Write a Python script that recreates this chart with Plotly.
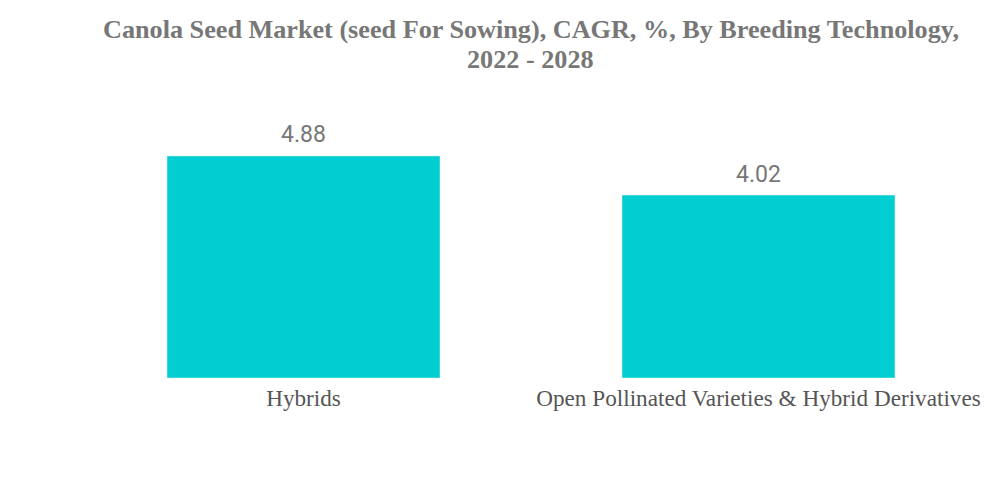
import plotly.graph_objects as go

categories = ["Hybrids", "Open Pollinated Varieties & Hybrid Derivatives"]
values = [4.88, 4.02]
value_labels = ["4.88", "4.02"]
title_lines = ["Canola Seed Market (seed For Sowing), CAGR, %, By Breeding Technology,",
               "2022 - 2028"]

fig = go.Figure(go.Bar(
    x=categories, y=values, marker_color="#00CED1", width=0.6, cliponaxis=False,
))
for c, v, t in zip(categories, values, value_labels):
    fig.add_annotation(x=c, y=v, text=t, showarrow=False, yanchor="middle", yshift=21,
                       font=dict(family="Roboto", size=23, color="#777777"))

title_font = dict(family="Liberation Serif", size=26.2, color="#777777", weight="bold")
for line, py in zip(title_lines, [1.2755, 1.1665]):
    fig.add_annotation(xref="paper", yref="paper", x=0.4995, y=py, text=line,
                       showarrow=False, xanchor="center", yanchor="middle", font=title_font)

fig.update_layout(
    width=1000, height=483,
    paper_bgcolor="white", plot_bgcolor="white",
    margin=dict(l=76, r=14, t=105, b=105),
    showlegend=False,
)
fig.update_xaxes(showgrid=False, showline=False, ticks="", ticklabelstandoff=4,
                 tickfont=dict(family="Liberation Serif", size=23.2, color="#555555"))
fig.update_yaxes(visible=False, range=[0, 6])
fig.write_html("out.html", config={"displayModeBar": False},
               post_script="document.body.style.margin='0';")
